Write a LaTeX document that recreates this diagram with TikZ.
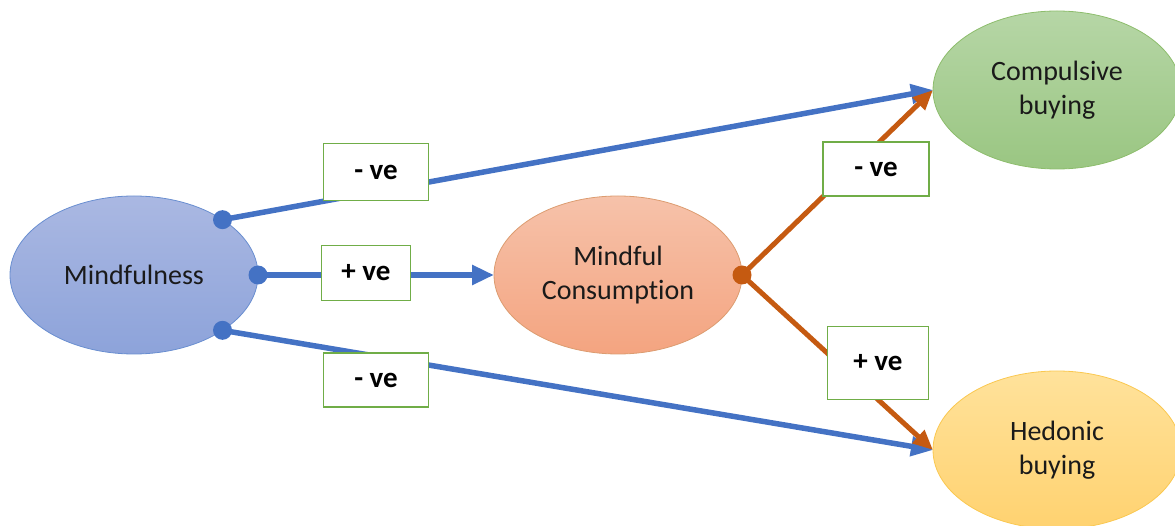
\documentclass[tikz,border=0pt]{standalone}
\usepackage{fontspec}
\setmainfont{Carlito}[Ligatures=NoCommon]
\usetikzlibrary{shapes.geometric,arrows.meta}
\definecolor{lblue}{HTML}{4472C4}
\definecolor{lorange}{HTML}{C55A11}
\definecolor{lgreen}{HTML}{70AD47}
\definecolor{txt}{HTML}{1A1A1A}
\tikzset{
  oval/.style={ellipse, minimum width=248pt, minimum height=158pt, inner sep=0pt, outer sep=0pt,
    align=center, text=txt, font=\fontsize{28}{34}\selectfont, line width=0.8pt},
  lbl/.style={draw=lgreen, line width=1.2pt, fill=white, inner sep=0pt, text=black,
    font=\fontsize{29}{34}\selectfont\bfseries},
  bluel/.style={draw=lblue, line width=5.5pt},
  orangel/.style={draw=lorange, line width=5pt},
  btip/.style={-{Triangle[length=22pt,width=19pt]}},
  otip/.style={-{Triangle[length=20pt,width=17pt]}},
}
\begin{document}
\begin{tikzpicture}[x=1pt,y=-1pt]
\useasboundingbox (0,0) rectangle (1175,526);
% ellipses
\node[oval, draw=lblue!80, top color={rgb,255:red,170;green,184;blue,226}, bottom color={rgb,255:red,141;green,163;blue,218}] (m) at (134,275) {Mindfulness};
\node[oval, draw=lorange!60, top color={rgb,255:red,246;green,194;blue,170}, bottom color={rgb,255:red,244;green,164;blue,128}] (mc) at (618,275) {Mindful\\Consumption};
\node[oval, draw=lgreen!80, top color={rgb,255:red,182;green,214;blue,166}, bottom color={rgb,255:red,154;green,198;blue,130}] (c) at (1057,90) {Compulsive\\buying};
\node[oval, draw={rgb,255:red,250;green,200;blue,80}, top color={rgb,255:red,255;green,226;blue,155}, bottom color={rgb,255:red,255;green,210;blue,112}] (h) at (1057,450) {Hedonic\\buying};
% connectors
\draw[bluel, btip] (m.32) -- (c.west);
\draw[bluel, btip] (m.-32) -- (h.west);
\draw[bluel, btip] (m.east) -- (mc.west);
\draw[orangel, otip] (mc.east) -- (c.west);
\draw[orangel, otip] (mc.east) -- (h.west);
\fill[lblue] (m.32) circle (9.5);
\fill[lblue] (m.-32) circle (9.5);
\fill[lblue] (m.east) circle (9.5);
\fill[lorange] (mc.east) circle (9.5);
% labels
\node[lbl, minimum width=105pt, minimum height=57pt] (l1) at (376,172) {- ve};
\node[lbl, minimum width=89pt, minimum height=55pt] (l2) at (366,273) {+ ve};
\node[lbl, minimum width=105pt, minimum height=54pt] (l3) at (376,380) {- ve};
\node[lbl, minimum width=106pt, minimum height=54pt] (l4) at (876,169) {- ve};
\node[lbl, minimum width=101pt, minimum height=73pt] (l5) at (878,363) {+ ve};
\end{tikzpicture}
\end{document}
